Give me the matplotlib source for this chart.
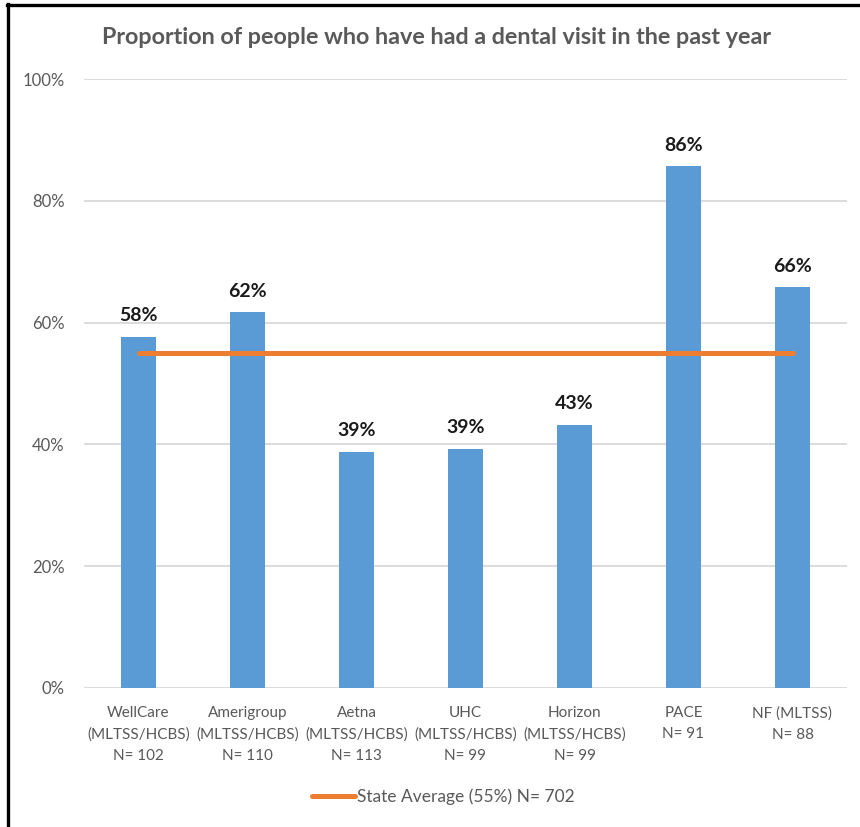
import matplotlib
matplotlib.use("Agg")
import matplotlib.pyplot as plt
from matplotlib.lines import Line2D
from matplotlib.ticker import FuncFormatter

plt.rcParams['font.family'] = ['Lato', 'DejaVu Sans']

# data
plans = ["WellCare", "Amerigroup", "Aetna", "UHC", "Horizon", "PACE", "NF (MLTSS)"]
programs = ["(MLTSS/HCBS)", "(MLTSS/HCBS)", "(MLTSS/HCBS)", "(MLTSS/HCBS)", "(MLTSS/HCBS)", "", ""]
sample_n = [102, 110, 113, 99, 99, 91, 88]
dental_visit = [0.577, 0.617, 0.388, 0.393, 0.432, 0.857, 0.658]
state_avg = 0.55
state_n = 702

BAR_BLUE = "#5B9BD5"
AVG_ORANGE = "#ED7D31"
GREY_TEXT = "#595959"

W, H = 860, 827
fig = plt.figure(figsize=(W / 100, H / 100), dpi=100)
ax = fig.add_axes([84 / W, 1 - 688 / H, (847 - 84) / W, (688 - 79) / H])

x = list(range(len(plans)))
ax.bar(x, dental_visit, width=0.33, color=BAR_BLUE, zorder=2)
avg_line, = ax.plot([x[0], x[-1]], [state_avg, state_avg], color=AVG_ORANGE,
                    lw=3.6, solid_capstyle="round", zorder=3)

for xi, v in zip(x, dental_visit):
    ax.annotate(f"{round(v * 100):.0f}%", (xi, v), xytext=(0, 9), textcoords="offset points",
                ha="center", va="bottom", fontsize=14, fontweight="bold", color="#1a1a1a")

labels = []
for name, prog, n in zip(plans, programs, sample_n):
    parts = [name] + ([prog] if prog else []) + [f"N= {n}"]
    labels.append("\n".join(parts))

ax.set_xlim(-0.5, len(plans) - 0.5)
ax.set_ylim(0, 1)
ax.set_yticks([0, 0.2, 0.4, 0.6, 0.8, 1.0])
ax.yaxis.set_major_formatter(FuncFormatter(lambda v, p: f"{v * 100:.0f}%"))
ax.set_xticks(x)
ax.set_xticklabels(labels, linespacing=1.65)
ax.tick_params(axis="x", length=0, pad=13, labelsize=11, labelcolor=GREY_TEXT)
ax.tick_params(axis="y", length=0, pad=14, labelsize=12, labelcolor=GREY_TEXT)
ax.grid(axis="y", color="#D9D9D9", lw=1.3, zorder=0)
for s in ax.spines.values():
    s.set_visible(False)

fig.text(437 / W, 1 - 38 / H, "Proportion of people who have had a dental visit in the past year",
         ha="center", va="center", fontsize=16.8, fontweight="bold", color=GREY_TEXT)

fig.legend([avg_line], [f"State Average (55%) N= {state_n}"], loc="center",
           bbox_to_anchor=(443 / W, 1 - 797 / H), frameon=False, fontsize=12.5,
           handlelength=2.5, handletextpad=0.1, labelcolor=GREY_TEXT)

# black frame on left and top edges
fig.add_artist(Line2D([8 / W, 8 / W], [0, 1 - 4 / H], color="black", lw=2.4))
fig.add_artist(Line2D([7 / W, 1], [1 - 5 / H, 1 - 5 / H], color="black", lw=2.4))

fig.savefig("out.png", dpi=100)
